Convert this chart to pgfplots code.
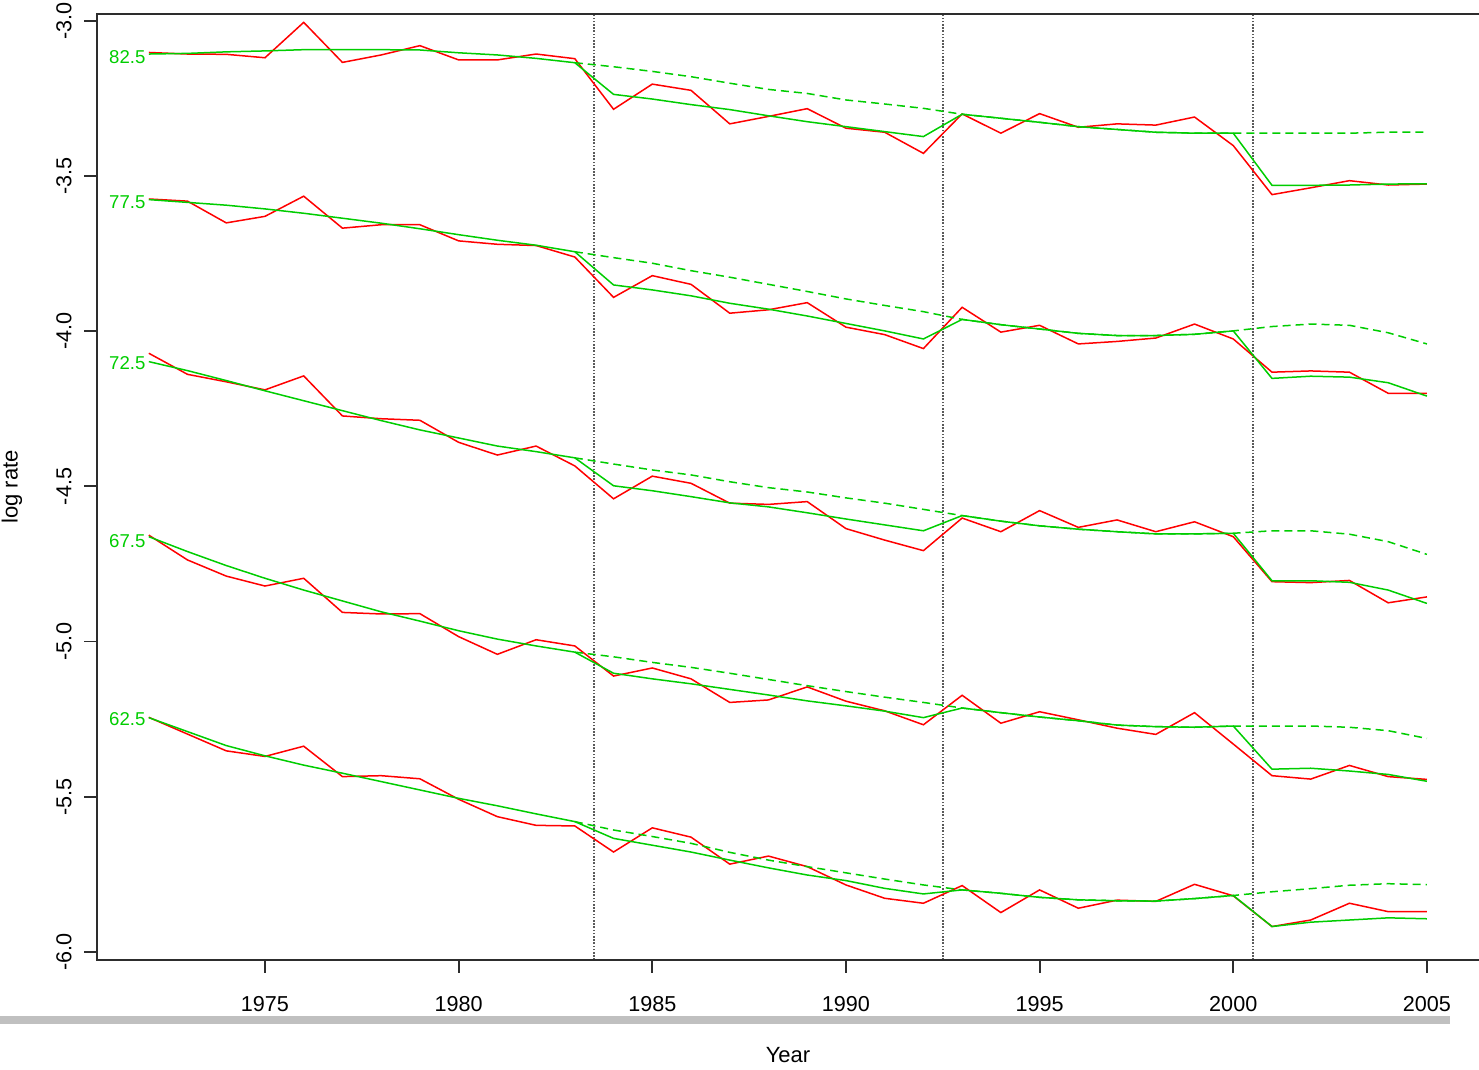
\documentclass[border=0pt]{standalone}
\usepackage{fontspec}
\setmainfont{Liberation Sans}
\usepackage{pgfplots}
\pgfplotsset{compat=1.18}
\usepackage{pgfplotstable}

\definecolor{rgreen}{RGB}{0,205,0}
\definecolor{rred}{RGB}{255,0,0}
\definecolor{axisdark}{RGB}{45,45,45}
\definecolor{dotgray}{RGB}{90,90,90}
\definecolor{bargray}{RGB}{192,192,192}

% yr, observed log rate, fitted, alternative fit (dashed)
\pgfplotstableread{
yr   obs    fit    alt
1972 -3.102 -3.107 nan
1973 -3.107 -3.105 nan
1974 -3.108 -3.100 nan
1975 -3.119 -3.097 nan
1976 -3.005 -3.093 nan
1977 -3.134 -3.093 nan
1978 -3.110 -3.093 nan
1979 -3.080 -3.094 nan
1980 -3.126 -3.103 nan
1981 -3.126 -3.110 nan
1982 -3.107 -3.121 nan
1983 -3.122 -3.135 -3.135
1984 -3.285 -3.237 -3.148
1985 -3.204 -3.252 -3.163
1986 -3.224 -3.270 -3.180
1987 -3.332 -3.286 -3.201
1988 -3.308 -3.306 -3.221
1989 -3.283 -3.325 -3.234
1990 -3.346 -3.341 -3.255
1991 -3.359 -3.357 -3.268
1992 -3.427 -3.373 -3.282
1993 -3.300 -3.301 -3.301
1994 -3.362 -3.314 -3.314
1995 -3.299 -3.327 -3.327
1996 -3.343 -3.341 -3.341
1997 -3.332 -3.350 -3.350
1998 -3.336 -3.359 -3.359
1999 -3.310 -3.362 -3.362
2000 -3.402 -3.362 -3.362
2001 -3.560 -3.530 -3.362
2002 -3.538 -3.530 -3.362
2003 -3.515 -3.529 -3.362
2004 -3.529 -3.526 -3.359
2005 -3.526 -3.525 -3.359
}\agea

\pgfplotstableread{
yr   obs    fit    alt
1972 -3.574 -3.576 nan
1973 -3.581 -3.585 nan
1974 -3.651 -3.594 nan
1975 -3.630 -3.606 nan
1976 -3.565 -3.620 nan
1977 -3.668 -3.636 nan
1978 -3.657 -3.652 nan
1979 -3.657 -3.670 nan
1980 -3.709 -3.689 nan
1981 -3.720 -3.707 nan
1982 -3.724 -3.723 nan
1983 -3.761 -3.744 -3.744
1984 -3.891 -3.851 -3.763
1985 -3.821 -3.867 -3.781
1986 -3.849 -3.886 -3.805
1987 -3.942 -3.910 -3.826
1988 -3.931 -3.929 -3.849
1989 -3.908 -3.951 -3.872
1990 -3.987 -3.975 -3.896
1991 -4.011 -3.999 -3.917
1992 -4.056 -4.025 -3.937
1993 -3.923 -3.962 -3.962
1994 -4.003 -3.979 -3.979
1995 -3.981 -3.993 -3.993
1996 -4.041 -4.007 -4.007
1997 -4.033 -4.014 -4.014
1998 -4.022 -4.014 -4.014
1999 -3.977 -4.010 -4.010
2000 -4.025 -3.999 -3.999
2001 -4.132 -4.152 -3.985
2002 -4.128 -4.145 -3.977
2003 -4.132 -4.148 -3.981
2004 -4.200 -4.166 -4.005
2005 -4.200 -4.209 -4.041
}\ageb

\pgfplotstableread{
yr   obs    fit    alt
1972 -4.071 -4.098 nan
1973 -4.139 -4.127 nan
1974 -4.163 -4.159 nan
1975 -4.189 -4.192 nan
1976 -4.144 -4.224 nan
1977 -4.273 -4.256 nan
1978 -4.282 -4.288 nan
1979 -4.287 -4.318 nan
1980 -4.358 -4.344 nan
1981 -4.399 -4.370 nan
1982 -4.370 -4.388 nan
1983 -4.434 -4.408 -4.408
1984 -4.540 -4.498 -4.428
1985 -4.467 -4.514 -4.447
1986 -4.490 -4.533 -4.463
1987 -4.554 -4.553 -4.485
1988 -4.558 -4.566 -4.504
1989 -4.549 -4.585 -4.518
1990 -4.636 -4.605 -4.537
1991 -4.673 -4.624 -4.554
1992 -4.707 -4.643 -4.574
1993 -4.602 -4.594 -4.594
1994 -4.646 -4.612 -4.612
1995 -4.578 -4.627 -4.627
1996 -4.632 -4.638 -4.638
1997 -4.608 -4.646 -4.646
1998 -4.646 -4.653 -4.653
1999 -4.614 -4.653 -4.653
2000 -4.662 -4.651 -4.651
2001 -4.807 -4.804 -4.643
2002 -4.810 -4.804 -4.643
2003 -4.803 -4.809 -4.654
2004 -4.875 -4.834 -4.678
2005 -4.856 -4.877 -4.719
}\agec

\pgfplotstableread{
yr   obs    fit    alt
1972 -4.657 -4.662 nan
1973 -4.737 -4.710 nan
1974 -4.789 -4.755 nan
1975 -4.821 -4.796 nan
1976 -4.796 -4.834 nan
1977 -4.906 -4.869 nan
1978 -4.911 -4.904 nan
1979 -4.910 -4.934 nan
1980 -4.984 -4.965 nan
1981 -5.041 -4.992 nan
1982 -4.994 -5.014 nan
1983 -5.014 -5.034 -5.034
1984 -5.111 -5.102 -5.049
1985 -5.085 -5.120 -5.067
1986 -5.120 -5.136 -5.083
1987 -5.196 -5.154 -5.102
1988 -5.188 -5.172 -5.122
1989 -5.146 -5.191 -5.142
1990 -5.192 -5.207 -5.161
1991 -5.223 -5.224 -5.179
1992 -5.268 -5.245 -5.196
1993 -5.173 -5.214 -5.214
1994 -5.263 -5.229 -5.229
1995 -5.226 -5.243 -5.243
1996 -5.252 -5.255 -5.255
1997 -5.279 -5.269 -5.269
1998 -5.299 -5.274 -5.274
1999 -5.229 -5.276 -5.276
2000 -5.330 -5.272 -5.272
2001 -5.432 -5.411 -5.272
2002 -5.443 -5.408 -5.272
2003 -5.399 -5.417 -5.276
2004 -5.435 -5.428 -5.287
2005 -5.444 -5.450 -5.312
}\aged

\pgfplotstableread{
yr   obs    fit    alt
1972 -5.244 -5.245 nan
1973 -5.298 -5.290 nan
1974 -5.352 -5.335 nan
1975 -5.370 -5.368 nan
1976 -5.337 -5.398 nan
1977 -5.435 -5.424 nan
1978 -5.432 -5.451 nan
1979 -5.442 -5.478 nan
1980 -5.508 -5.505 nan
1981 -5.564 -5.529 nan
1982 -5.592 -5.555 nan
1983 -5.594 -5.580 -5.580
1984 -5.678 -5.634 -5.607
1985 -5.600 -5.656 -5.628
1986 -5.630 -5.678 -5.650
1987 -5.717 -5.704 -5.679
1988 -5.691 -5.729 -5.704
1989 -5.725 -5.752 -5.725
1990 -5.784 -5.770 -5.745
1991 -5.827 -5.795 -5.765
1992 -5.843 -5.813 -5.784
1993 -5.786 -5.800 -5.800
1994 -5.873 -5.811 -5.811
1995 -5.800 -5.824 -5.824
1996 -5.859 -5.832 -5.832
1997 -5.833 -5.835 -5.835
1998 -5.837 -5.836 -5.836
1999 -5.782 -5.828 -5.828
2000 -5.819 -5.818 -5.818
2001 -5.918 -5.918 -5.806
2002 -5.897 -5.904 -5.796
2003 -5.843 -5.897 -5.785
2004 -5.870 -5.890 -5.780
2005 -5.870 -5.893 -5.783
}\agee

\pgfplotsset{
  obsline/.style={rred, line width=0.75pt},
  fitline/.style={rgreen, line width=0.75pt},
  altline/.style={rgreen, line width=0.75pt, dash pattern=on 4pt off 2.5pt},
}
\tikzset{
  agelab/.style={anchor=east, inner sep=0pt, text=rgreen,
    font=\fontsize{9.3}{11}\selectfont, xshift=-1.5pt},
}

\begin{document}
\begin{tikzpicture}
\begin{axis}[
  scale only axis,
  width=691pt, height=473pt,
  xmin=1970.663, xmax=2006.345,
  ymin=-6.0258, ymax=-2.978,
  clip=false,
  axis line style={draw=none},
  tick align=outside,
  xtick pos=bottom, ytick pos=left,
  major tick length=6.5pt,
  tick style={line width=0.9pt, color=axisdark},
  xtick={1975,1980,1985,1990,1995,2000,2005},
  xticklabels={1975,1980,1985,1990,1995,2000,2005},
  ytick={-6,-5.5,-5,-4.5,-4,-3.5,-3},
  yticklabels={-6.0,-5.5,-5.0,-4.5,-4.0,-3.5,-3.0},
  xticklabel style={anchor=north, inner sep=0pt, font=\fontsize{10.8}{13}\selectfont},
  yticklabel style={rotate=90, anchor=south, inner sep=0pt, font=\fontsize{10.8}{13}\selectfont},
  xticklabel shift=11.5pt,
  yticklabel shift=6pt,
]

% period boundaries
\addplot[dotgray, line width=0.9pt, dash pattern=on 0.8pt off 0.8pt] coordinates {(1983.5,-6.0258) (1983.5,-2.978)};
\addplot[dotgray, line width=0.9pt, dash pattern=on 0.8pt off 0.8pt] coordinates {(1992.5,-6.0258) (1992.5,-2.978)};
\addplot[dotgray, line width=0.9pt, dash pattern=on 0.8pt off 0.8pt] coordinates {(2000.5,-6.0258) (2000.5,-2.978)};

\addplot[obsline] table[x=yr, y=obs] {\agea};
\addplot[fitline] table[x=yr, y=fit] {\agea};
\addplot[altline] table[x=yr, y=alt] {\agea};

\addplot[obsline] table[x=yr, y=obs] {\ageb};
\addplot[fitline] table[x=yr, y=fit] {\ageb};
\addplot[altline] table[x=yr, y=alt] {\ageb};

\addplot[obsline] table[x=yr, y=obs] {\agec};
\addplot[fitline] table[x=yr, y=fit] {\agec};
\addplot[altline] table[x=yr, y=alt] {\agec};

\addplot[obsline] table[x=yr, y=obs] {\aged};
\addplot[fitline] table[x=yr, y=fit] {\aged};
\addplot[altline] table[x=yr, y=alt] {\aged};

\addplot[obsline] table[x=yr, y=obs] {\agee};
\addplot[fitline] table[x=yr, y=fit] {\agee};
\addplot[altline] table[x=yr, y=alt] {\agee};

\node[agelab] at (axis cs:1972,-3.116) {82.5};
\node[agelab] at (axis cs:1972,-3.583) {77.5};
\node[agelab] at (axis cs:1972,-4.103) {72.5};
\node[agelab] at (axis cs:1972,-4.677) {67.5};
\node[agelab] at (axis cs:1972,-5.250) {62.5};
\end{axis}

\draw[axisdark, line width=1pt]
  (current axis.north east) -- (current axis.north west)
  -- (current axis.south west) -- (current axis.south east);
\fill[bargray] ([xshift=-48.5pt,yshift=-28pt]current axis.south west)
  rectangle ([xshift=676.5pt,yshift=-32.2pt]current axis.south west);
\node[font=\fontsize{11}{13}\selectfont] at ([yshift=-47.5pt]current axis.south) {Year};
\node[rotate=90, font=\fontsize{11}{13}\selectfont] at ([xshift=-42.5pt]current axis.west) {log rate};

\pgfresetboundingbox
\useasboundingbox ([xshift=-48.5pt,yshift=-55pt]current axis.south west)
  rectangle ([yshift=7pt]current axis.north east);
\end{tikzpicture}
\end{document}
